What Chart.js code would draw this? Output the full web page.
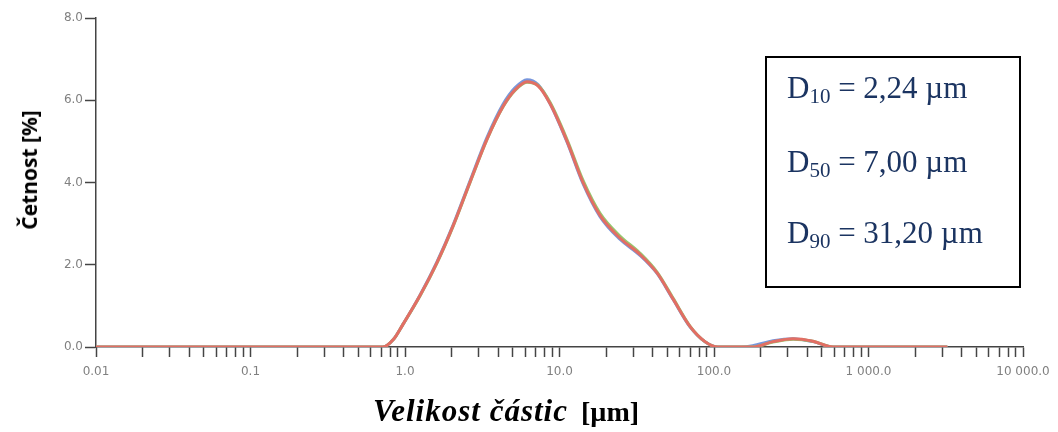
<!DOCTYPE html>
<html>
<head>
<meta charset="utf-8">
<script src="https://cdn.jsdelivr.net/npm/chart.js@4/dist/chart.umd.min.js"></script>
<style>
  body { margin: 0; background: #fff; }
  #wrap { position: relative; width: 1058px; height: 432px; }
  #ytitle {
    position: absolute; left: 29px; top: 170px;
    transform: translate(-50%, -50%) rotate(-90deg);
    font: bold 21px "Open Sans", sans-serif; color: #000; white-space: nowrap;
  }
  #xtitle {
    position: absolute; left: 373px; top: 395px;
    font: bold italic 31px "Liberation Serif", serif; line-height: 31px; color: #000; white-space: nowrap;
  }
  #xtitle i { letter-spacing: 1px; }
  #xtitle span { font-style: normal; font-size: 28px; margin-left: 13px; }
  #box {
    position: absolute; left: 765px; top: 56px; width: 252px; height: 228px;
    border: 2px solid #000;
  }
  .dline {
    position: absolute; left: 20px;
    font: 31px "Liberation Serif", serif; line-height: 30px; color: #1b3461; white-space: nowrap;
  }
  .dline span { font-size: 21px; position: relative; top: 5px; }
</style>
</head>
<body>
<div id="wrap">
  <canvas id="myChart"></canvas>
  <div id="ytitle">Četnost [%]</div>
  <div id="xtitle"><i>Velikost částic</i><span>[µm]</span></div>
  <div id="box">
    <div class="dline" style="top:15px">D<span>10</span> = 2,24 µm</div>
    <div class="dline" style="top:89px">D<span>50</span> = 7,00 µm</div>
    <div class="dline" style="top:160px">D<span>90</span> = 31,20 µm</div>
  </div>
</div>
<script>
// velikost castic (um) a cetnost (%) - tri mereni
var velikost = [0.01, 0.1, 0.5, 0.72, 0.84, 0.97, 1.25, 1.61, 2.05, 2.63, 3.39, 4.31, 5.15, 6.16, 7.26, 8.68, 11.2, 14.2, 18.3, 24.6, 33.2, 42.8, 54.3, 69.9, 87.4, 106, 150, 178, 241, 325, 437, 590, 1000, 3240];
var cetnostR = [0, 0, 0, 0, 0.18, 0.55, 1.25, 2.05, 2.95, 4.0, 5.05, 5.85, 6.25, 6.45, 6.35, 5.92, 5.0, 4.0, 3.2, 2.65, 2.25, 1.8, 1.17, 0.5, 0.13, 0, 0, 0, 0.13, 0.2, 0.14, 0, 0, 0];
var cetnostB = [0, 0, 0, 0, 0.18, 0.55, 1.26, 2.07, 2.97, 4.03, 5.09, 5.9, 6.3, 6.5, 6.38, 5.92, 4.98, 3.97, 3.17, 2.62, 2.23, 1.79, 1.16, 0.49, 0.13, 0, 0, 0.03, 0.15, 0.2, 0.13, 0, 0, 0];
var cetnostG = [0, 0, 0, 0, 0.18, 0.55, 1.24, 2.04, 2.94, 3.99, 5.04, 5.84, 6.24, 6.44, 6.36, 5.95, 5.04, 4.05, 3.25, 2.7, 2.28, 1.82, 1.19, 0.51, 0.13, 0, 0, 0, 0.12, 0.19, 0.14, 0, 0, 0];

var xHlavni = [0.01, 0.1, 1, 10, 100, 1000, 10000];
var xPopisky = ['0.01', '0.1', '1.0', '10.0', '100.0', '1 000.0', '10 000.0'];
var yHodnoty = [0, 2, 4, 6, 8];

const body = (arr) => velikost.map((v, i) => ({ x: v, y: arr[i] }));

const sada = (label, arr, color) => ({
    label: label,
    data: body(arr),
    borderColor: color,
    borderWidth: 3,
    pointRadius: 0,
    fill: false,
    cubicInterpolationMode: 'monotone'
});

const config = {
    type: 'line',
    data: {
        datasets: [
            sada('3', cetnostR, 'rgb(226, 110, 100)'),
            sada('2', cetnostG, 'rgb(150, 200, 110)'),
            sada('1', cetnostB, 'rgb(120, 150, 220)')
        ]
    },
    options: {
        responsive: false,
        animation: false,
        layout: { padding: { left: 0, right: 35, top: 18, bottom: 0 } },
        plugins: { legend: { display: false }, tooltip: { enabled: false } },
        scales: {
            x: {
                type: 'logarithmic',
                min: 0.01,
                max: 10000,
                afterBuildTicks: (scale) => {
                    let t = [];
                    for (let i = 0; i < xHlavni.length; i++) {
                        t.push({ value: xHlavni[i], major: true });
                        if (i < xHlavni.length - 1) {
                            for (let m = 2; m <= 9; m++) t.push({ value: xHlavni[i] * m, major: false });
                        }
                    }
                    scale.ticks = t;
                },
                afterFit: (scale) => { scale.height = 85; },
                border: { display: true, color: '#444', width: 1.5 },
                grid: { drawOnChartArea: false, drawTicks: true, tickLength: 10, tickColor: '#444', tickWidth: 1.5 },
                ticks: {
                    autoSkip: false,
                    maxRotation: 0,
                    minRotation: 0,
                    padding: 8,
                    color: '#808080',
                    font: { family: 'DejaVu Sans', size: 12 },
                    callback: function(value) {
                        for (let i = 0; i < xHlavni.length; i++) {
                            if (Math.abs(value - xHlavni[i]) / xHlavni[i] < 1e-9) return xPopisky[i];
                        }
                        return '';
                    }
                }
            },
            y: {
                min: 0,
                max: 8,
                afterBuildTicks: (scale) => {
                    scale.ticks = yHodnoty.map((v) => ({ value: v }));
                },
                afterFit: (scale) => { scale.width = 96; },
                border: { display: true, color: '#444', width: 1.5 },
                grid: { drawOnChartArea: false, drawTicks: true, tickLength: 11, tickColor: '#444', tickWidth: 1.5 },
                ticks: {
                    padding: 2,
                    color: '#808080',
                    font: { family: 'DejaVu Sans', size: 12 },
                    callback: (v) => v.toFixed(1)
                }
            }
        }
    }
};

const cv = document.getElementById('myChart');
cv.width = 1058;
cv.height = 432;
const myChart = new Chart(cv, config);
</script>
</body>
</html>
